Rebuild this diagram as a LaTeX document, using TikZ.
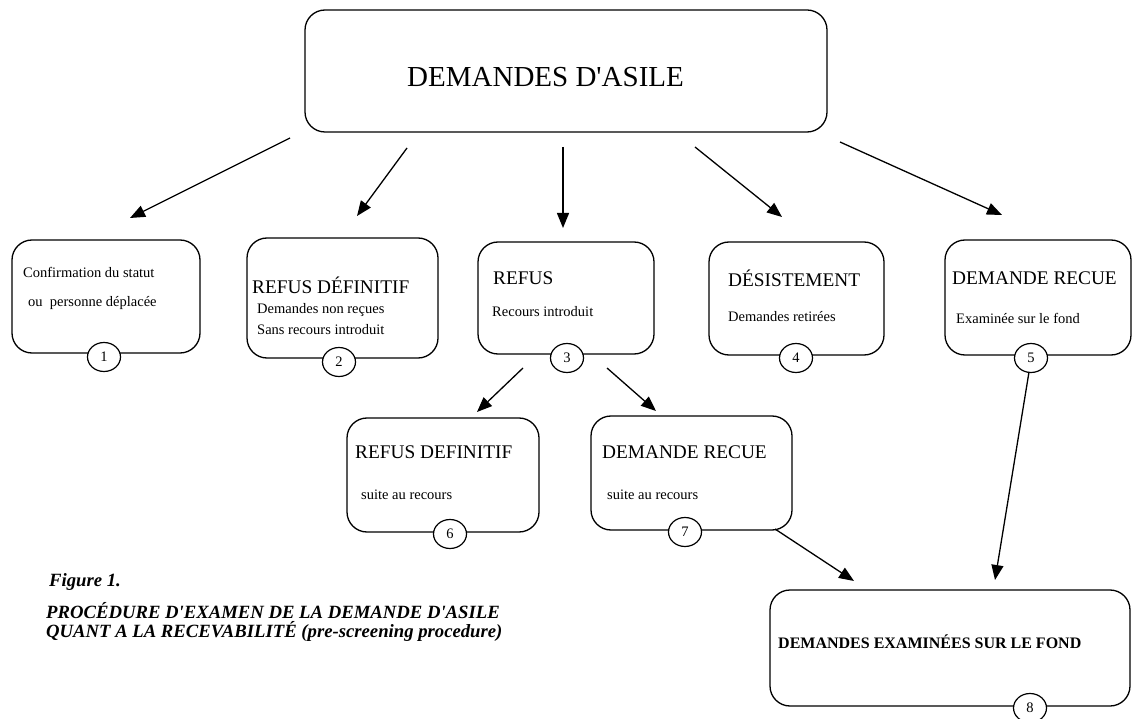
\documentclass[tikz,border=0pt]{standalone}
\usepackage{fontspec}
\setmainfont{Liberation Serif}[Ligatures=TeXOff]
\usetikzlibrary{arrows.meta,shapes.geometric}
\begin{document}
\begin{tikzpicture}[x=1pt,y=-1pt,
  box/.style={draw,line width=1.3pt,rounded corners=20pt,inner sep=0pt},
  num/.style={draw,fill=white,line width=1.2pt,ellipse,minimum width=33pt,minimum height=29pt,inner sep=0pt,font=\fontsize{14.5}{17}\selectfont},
  big/.style={anchor=west,inner sep=0pt,font=\fontsize{29}{34}\selectfont},
  lbl/.style={anchor=west,inner sep=0pt,font=\fontsize{19.3}{22}\selectfont},
  sub/.style={anchor=west,inner sep=0pt,font=\fontsize{14.5}{17}\selectfont},
  figcap/.style={anchor=west,inner sep=0pt,font=\fontsize{18.7}{20}\selectfont\bfseries\itshape},
  arr/.style={line width=1.3pt,-{Triangle[length=15pt,width=12pt]}}]
\useasboundingbox (0,0) rectangle (1133,719);
% boxes
\node[box,minimum width=522pt,minimum height=122pt] (b0) at (566,71) {};
\node[box,minimum width=188pt,minimum height=113pt] (b1) at (106,296.5) {};
\node[box,minimum width=191pt,minimum height=120pt] (b2) at (342.5,298) {};
\node[box,minimum width=176pt,minimum height=112pt] (b3) at (566,298) {};
\node[box,minimum width=175pt,minimum height=113pt] (b4) at (796.5,298.5) {};
\node[box,minimum width=186pt,minimum height=115pt] (b5) at (1038,297.5) {};
\node[box,minimum width=192pt,minimum height=114pt] (b6) at (443,475) {};
\node[box,minimum width=201pt,minimum height=114pt] (b7) at (691.5,473) {};
\node[box,minimum width=360pt,minimum height=116pt] (b8) at (950,648) {};
% numbers
\node[num] (c1) at (104,357) {1};
\node[num] (c2) at (339,362) {2};
\node[num] (c3) at (567,358) {3};
\node[num] (c4) at (796,358) {4};
\node[num] (c5) at (1031,358) {5};
\node[num] (c6) at (450,534) {6};
\node[num] (c7) at (685,532) {7};
\node[num] (c8) at (1030,708) {8};
% texts
\node[big] (t0) at (407,77) {DEMANDES D'ASILE};
\node[sub] (t1a) at (23,272) {Confirmation du statut};
\node[sub] (t1b) at (28,303) {ou\ \ personne déplacée};
\node[lbl] (t2) at (252,285) {REFUS DÉFINITIF};
\node[sub] (t2a) at (257,310) {Demandes non reçues};
\node[sub] (t2b) at (257,330) {Sans recours introduit};
\node[lbl] (t3) at (493,278) {REFUS};
\node[sub] (t3a) at (492,312) {Recours introduit};
\node[lbl] (t4) at (728,278) {DÉSISTEMENT};
\node[sub] (t4a) at (728,317) {Demandes retirées};
\node[lbl] (t5) at (952,278) {DEMANDE RECUE};
\node[sub] (t5a) at (956,318) {Examinée sur le fond};
\node[lbl] (t6) at (355,452) {REFUS DEFINITIF};
\node[sub] (t6a) at (361,495) {suite au recours};
\node[lbl] (t7) at (602,452) {DEMANDE RECUE};
\node[sub] (t7a) at (607,495) {suite au recours};
\node[anchor=west,inner sep=0pt,font=\fontsize{16}{19}\selectfont\bfseries] (t8) at (778,642) {DEMANDES EXAMINÉES SUR LE FOND};
\node[figcap] (f1) at (49,582) {Figure 1.};
\node[figcap] (f2) at (46,611) {PROCÉDURE D'EXAMEN DE LA DEMANDE D'ASILE};
\node[figcap] (f3) at (46,631) {QUANT A LA RECEVABILITÉ (pre-screening procedure)};
% arrow end points
\coordinate (a1s) at (290,138); \coordinate (a1e) at (130,218);
\coordinate (a2s) at (407,148); \coordinate (a2e) at (357,216);
\coordinate (a3s) at (563,147); \coordinate (a3e) at (563,228);
\coordinate (a4s) at (695,147); \coordinate (a4e) at (782,217);
\coordinate (a5s) at (840,142); \coordinate (a5e) at (1002,215);
\coordinate (a6s) at (523,368); \coordinate (a6e) at (477,412);
\coordinate (a7s) at (607,368); \coordinate (a7e) at (656,411);
\coordinate (a8s) at (1029,372); \coordinate (a8e) at (995,580);
\coordinate (a9s) at (775,529); \coordinate (a9e) at (854,581);
\draw[arr] (a1s) -- (a1e);
\draw[arr] (a2s) -- (a2e);
\draw[arr] (a3s) -- (a3e);
\draw[arr] (a4s) -- (a4e);
\draw[arr] (a5s) -- (a5e);
\draw[arr] (a6s) -- (a6e);
\draw[arr] (a7s) -- (a7e);
\draw[arr] (a8s) -- (a8e);
\draw[arr] (a9s) -- (a9e);
\end{tikzpicture}
\end{document}
